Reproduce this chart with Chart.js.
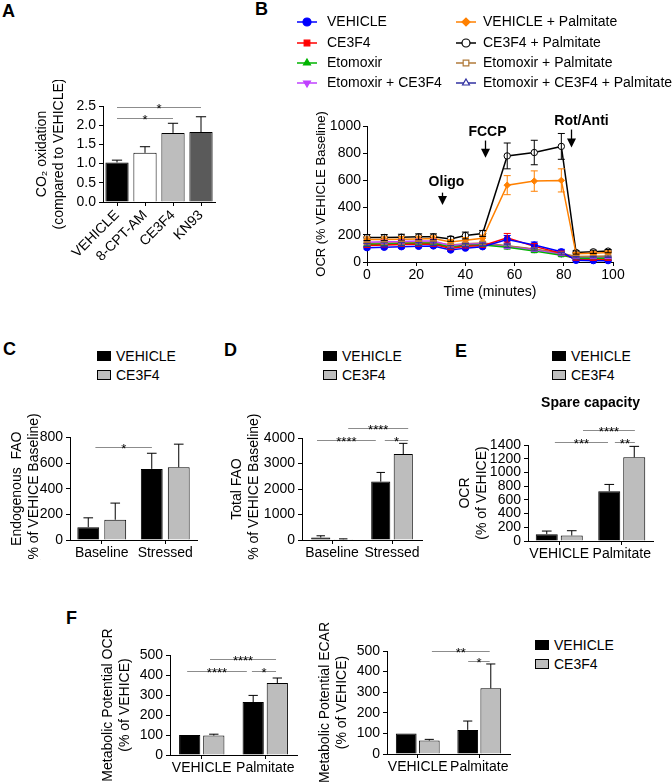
<!DOCTYPE html>
<html>
<head>
<meta charset="utf-8">
<script src="https://cdn.jsdelivr.net/npm/chart.js@4.4.1/dist/chart.umd.min.js"></script>
<style>
body { margin: 0; background: #fff; width: 672px; height: 784px; position: relative; overflow: hidden;
       font-family: 'Liberation Sans', Arial, sans-serif; color: #000; }
.box { position: absolute; }
.letter { position: absolute; font-weight: bold; font-size: 18px; line-height: 18px; }
.leg { position: absolute; font-size: 14px; line-height: 19px; white-space: nowrap; }
.leg i { display: inline-block; width: 12px; height: 8px; border: 1px solid #000; margin-right: 5px; }
</style>
</head>
<body>
<div class="letter" style="left:2px;top:2px">A</div>
<div class="letter" style="left:255px;top:0px">B</div>
<div class="letter" style="left:3px;top:340px">C</div>
<div class="letter" style="left:224px;top:341px">D</div>
<div class="letter" style="left:455px;top:342px">E</div>
<div class="letter" style="left:66px;top:609px">F</div>
<script>
const FONT = "'Liberation Sans', Arial, sans-serif";
Chart.defaults.font.family = FONT;
Chart.defaults.color = '#000';

// ---- panel A
const aLabels = ['VEHICLE', '8-CPT-AM', 'CE3F4', 'KN93'];
const aValues = [1.03, 1.28, 1.80, 1.82];
const aErrors = [0.06, 0.16, 0.25, 0.40];
const aColors = ['#000000', '#ffffff', '#bdbdbd', '#5a5a5a'];

// ---- panel B (Seahorse trace)
const bTimes = [0, 7, 14, 21, 27, 34, 40, 47, 57, 68, 79, 85, 92, 98];
const bNames = ['VEHICLE', 'CE3F4', 'Etomoxir', 'Etomoxir + CE3F4',
                'VEHICLE + Palmitate', 'CE3F4 + Palmitate', 'Etomoxir + Palmitate', 'Etomoxir + CE3F4 + Palmitate'];
const bVehicle   = [105, 108, 112, 115, 118,  88, 102, 112, 165, 125,  75, 12, 10, 10];
const bCe3f4     = [122, 125, 128, 130, 130, 100, 115, 120, 178, 115,  65, 18, 16, 16];
const bEtomoxir  = [130, 133, 135, 138, 138, 108, 122, 125, 108,  80,  50, 28, 28, 28];
const bEtoCe3f4  = [145, 148, 150, 155, 155, 120, 132, 132, 112,  88,  55, 30, 30, 30];
const bVehPalm   = [165, 165, 168, 170, 172, 148, 160, 175, 565, 595, 600, 60, 65, 70];
const bCe3f4Palm = [180, 180, 182, 185, 185, 170, 195, 210, 780, 805, 850, 70, 75, 80];
const bEtoPalm   = [138, 140, 142, 145, 145, 125, 135, 140, 120,  95,  65, 40, 42, 45];
const bEtoCePalm = [125, 128, 130, 132, 134, 110, 125, 130, 118,  92,  60, 35, 36, 38];
const bVehicleErr   = [10, 10, 10, 10, 10,  8,  8,  8, 30, 22, 18,  4,  3,  3];
const bCe3f4Err     = [15, 14, 14, 14, 14, 10, 12, 12, 32, 20, 15,  5,  4,  4];
const bEtomoxirErr  = [10, 10, 10, 10, 10,  8,  8,  8, 12, 10,  8,  4,  4,  4];
const bEtoCe3f4Err  = [12, 12, 12, 12, 12, 10, 10, 10, 12, 10,  8,  4,  4,  4];
const bVehPalmErr   = [20, 20, 20, 20, 20, 18, 20, 22, 70, 75, 85, 10, 10, 10];
const bCe3f4PalmErr = [22, 22, 22, 22, 22, 18, 25, 22, 95, 90, 95, 12, 12, 12];
const bEtoPalmErr   = [12, 12, 12, 12, 12, 10, 10, 10, 12, 10,  8,  5,  5,  5];
const bEtoCePalmErr = [12, 12, 12, 12, 12, 10, 10, 10, 12, 10,  8,  5,  5,  5];
const bInjections = ['Oligo', 'FCCP', 'Rot/Anti'];
const bInjectTimes = [30.5, 48, 83];

// ---- panels C-F (VEHICLE vs CE3F4)
const cGroups = ['Baseline', 'Stressed'];
const cVehicle = [100, 555], cVehicleErr = [73, 122];
const cCe3f4 = [158, 568],   cCe3f4Err = [130, 180];
const dGroups = ['Baseline', 'Stressed'];
const dVehicle = [95, 2290], dVehicleErr = [70, 360];
const dCe3f4 = [30, 3370],   dCe3f4Err = [15, 420];
const eGroups = ['VEHICLE', 'Palmitate'];
const eVehicle = [100, 725], eVehicleErr = [45, 100];
const eCe3f4 = [80, 1220],   eCe3f4Err = [70, 160];
const fGroups = ['VEHICLE', 'Palmitate'];
const fOcrVehicle = [100, 265], fOcrVehicleErr = [0, 33];
const fOcrCe3f4 = [97, 360],    fOcrCe3f4Err = [7, 25];
const fEcarVehicle = [100, 117], fEcarVehicleErr = [0, 43];
const fEcarCe3f4 = [65, 319],    fEcarCe3f4Err = [6, 118];

const BLACK = '#000000', GRAY = '#bdbdbd';

function place(l, t, w, h) {
    let d = document.createElement('div');
    d.className = 'box';
    d.style.cssText = `left:${l}px;top:${t}px;width:${w}px;height:${h}px`;
    let c = document.createElement('canvas');
    d.appendChild(c);
    document.body.appendChild(d);
    return c;
}

function legend(l, t) {
    let d = document.createElement('div');
    d.className = 'leg';
    d.style.left = l + 'px';
    d.style.top = t + 'px';
    d.innerHTML = `<i style="background:${BLACK}"></i>VEHICLE<br><i style="background:${GRAY}"></i>CE3F4`;
    document.body.appendChild(d);
}

// error bars, significance bars and whatever else a panel needs
function extras(o) {
    return {
        id: 'extras',
        afterDatasetsDraw(chart) {
            const ctx = chart.ctx, ys = chart.scales.y;
            ctx.save();
            ctx.lineWidth = 1;
            (o.errors || []).forEach((errs, di) => {
                const meta = chart.getDatasetMeta(di);
                const data = chart.data.datasets[di].data;
                meta.data.forEach((el, j) => {
                    const e = errs[j];
                    if (!e) return;
                    const v = typeof data[j] === 'object' ? data[j].y : data[j];
                    const top = ys.getPixelForValue(v + e);
                    const bot = o.both ? ys.getPixelForValue(v - e) : el.y;
                    const cap = o.cap || el.width * 0.22;
                    ctx.strokeStyle = o.errColors ? o.errColors[di] : '#000';
                    ctx.beginPath();
                    ctx.moveTo(el.x, bot); ctx.lineTo(el.x, top);
                    ctx.moveTo(el.x - cap, top); ctx.lineTo(el.x + cap, top);
                    if (o.both) { ctx.moveTo(el.x - cap, bot); ctx.lineTo(el.x + cap, bot); }
                    ctx.stroke();
                });
            });
            ctx.restore();
        },
        afterDraw(chart) {
            const ctx = chart.ctx, xs = chart.scales.x, ys = chart.scales.y;
            ctx.save();
            (o.sig || []).forEach(s => {
                const x1 = xs.getPixelForValue(s[0]), x2 = xs.getPixelForValue(s[1]);
                const y = Math.round(ys.getPixelForValue(s[2])) + 0.5;
                ctx.strokeStyle = '#8c8c8c';
                ctx.lineWidth = 1;
                ctx.beginPath(); ctx.moveTo(x1, y); ctx.lineTo(x2, y); ctx.stroke();
                ctx.fillStyle = '#000';
                ctx.font = '13px ' + FONT;
                ctx.textAlign = 'center';
                ctx.textBaseline = 'alphabetic';
                ctx.fillText(s[3], (x1 + x2) / 2, y + 5);
            });
            if (o.draw) o.draw(chart, ctx);
            ctx.restore();
        }
    };
}

function fixX(h) { return s => { s.height = h; s.paddingLeft = 0; s.paddingRight = 0; }; }
function fixY(w) { return s => { s.width = w; s.paddingTop = 0; s.paddingBottom = 0; }; }

function barChart(c) {
    let canvas = place(...c.box);
    let datasets = c.series.map(s => ({
        data: s.values,
        backgroundColor: s.color,
        borderColor: '#000',
        borderWidth: 1,
        categoryPercentage: c.cat,
        barPercentage: c.bar
    }));
    return new Chart(canvas, {
        type: 'bar',
        data: { labels: c.labels, datasets: datasets },
        options: {
            responsive: true,
            maintainAspectRatio: false,
            animation: false,
            layout: { padding: c.pad },
            plugins: {
                legend: { display: false },
                tooltip: { enabled: false },
                title: c.heading ? {
                    display: true, text: c.heading, fullSize: false, color: '#000',
                    font: { size: 14, weight: 'bold' }, padding: c.headingPad
                } : { display: false }
            },
            scales: {
                x: {
                    grid: { offset: false, drawOnChartArea: false, tickLength: 4, color: '#000' },
                    border: { color: '#000' },
                    ticks: { font: { size: 14 }, color: '#000', autoSkip: false, padding: 1,
                             maxRotation: c.rot || 0, minRotation: c.rot || 0 },
                    afterFit: fixX(c.xh)
                },
                y: {
                    min: 0, max: c.yMax,
                    grid: { drawOnChartArea: false, tickLength: 4, color: '#000' },
                    border: { color: '#000' },
                    ticks: { stepSize: c.step, autoSkip: false, font: { size: 14 }, color: '#000', padding: 3,
                             callback: c.fmt || (v => v) },
                    title: { display: true, text: c.title, font: { size: 14 }, color: '#000',
                             padding: { top: 4, bottom: 0 } },
                    afterFit: fixY(c.yw)
                }
            }
        },
        plugins: [extras({ errors: c.series.map(s => s.err), sig: c.sig })]
    });
}

// ---- A
barChart({
    box: [0, 80, 228, 180], pad: { left: 30, top: 26, right: 13, bottom: 0 }, yw: 73, xh: 58,
    labels: aLabels, rot: 45, cat: 1, bar: 0.83, yMax: 2.5, step: 0.5, fmt: v => v.toFixed(1),
    title: ['CO\u2082 oxidation', '(compared to VEHICLE)'],
    series: [{ values: aValues, err: aErrors, color: aColors }],
    sig: [[0, 2, 2.18, '*'], [0, 3, 2.48, '*']]
});

// ---- C
legend(97, 347);
barChart({
    box: [0, 380, 210, 180], pad: { left: 5, top: 57.5, right: 13, bottom: 0 }, yw: 65, xh: 20,
    labels: cGroups, cat: 0.85, bar: 0.81, yMax: 800, step: 200,
    title: ['Endogenous  FAO', '(% of VEHICE Baseline)'],
    series: [{ values: cVehicle, err: cVehicleErr, color: BLACK },
             { values: cCe3f4, err: cCe3f4Err, color: GRAY }],
    sig: [[-0.1, 0.79, 726, '*']]
});

// ---- D
legend(323, 347);
barChart({
    box: [215, 380, 215, 180], pad: { left: 10, top: 58, right: 8, bottom: 0 }, yw: 77, xh: 20,
    labels: dGroups, cat: 0.75, bar: 0.85, yMax: 4000, step: 1000,
    title: ['Total FAO', '(% of VEHICE Baseline)'],
    series: [{ values: dVehicle, err: dVehicleErr, color: BLACK },
             { values: dCe3f4, err: dCe3f4Err, color: GRAY }],
    sig: [[-0.25, 0.73, 3920, '****'], [0.27, 1.27, 4390, '****'], [0.88, 1.27, 3920, '*']]
});

// ---- E
legend(552, 347);
barChart({
    box: [440, 380, 232, 180], pad: { left: 12.6, top: 10, right: 19, bottom: 0 }, yw: 75.4, xh: 19,
    heading: 'Spare capacity', headingPad: { top: 4.6, bottom: 33.6 },
    labels: eGroups, cat: 0.8, bar: 0.88, yMax: 1400, step: 200,
    title: ['OCR', '(% of VEHICE)'],
    series: [{ values: eVehicle, err: eVehicleErr, color: BLACK },
             { values: eCe3f4, err: eCe3f4Err, color: GRAY }],
    sig: [[-0.07, 0.78, 1443, '***'], [0.38, 1.21, 1618, '****'], [0.89, 1.21, 1443, '**']]
});

// ---- F
barChart({
    box: [90, 600, 215, 184], pad: { left: 5.6, top: 55, right: 8, bottom: 0 }, yw: 74.4, xh: 29,
    labels: fGroups, cat: 0.76, bar: 0.88, yMax: 500, step: 100,
    title: ['Metabolic Potential OCR', '(% of VEHICE)'],
    series: [{ values: fOcrVehicle, err: fOcrVehicleErr, color: BLACK },
             { values: fOcrCe3f4, err: fOcrCe3f4Err, color: GRAY }],
    sig: [[-0.23, 0.71, 420, '****'], [0.13, 1.17, 480, '****'], [0.79, 1.17, 420, '*']]
});
barChart({
    box: [310, 600, 210, 184], pad: { left: 2.6, top: 51, right: 10, bottom: 0 }, yw: 74.4, xh: 30,
    labels: fGroups, cat: 0.75, bar: 0.9, yMax: 500, step: 100,
    title: ['Metabolic Potential ECAR', '(% of VEHICE)'],
    series: [{ values: fEcarVehicle, err: fEcarVehicleErr, color: BLACK },
             { values: fEcarCe3f4, err: fEcarCe3f4Err, color: GRAY }],
    sig: [[0.23, 1.17, 500, '**'], [0.82, 1.17, 451, '*']]
});
legend(535, 636);

// ---- B
const bSeries = [bVehicle, bCe3f4, bEtomoxir, bEtoCe3f4, bVehPalm, bCe3f4Palm, bEtoPalm, bEtoCePalm];
const bErrors = [bVehicleErr, bCe3f4Err, bEtomoxirErr, bEtoCe3f4Err, bVehPalmErr, bCe3f4PalmErr, bEtoPalmErr, bEtoCePalmErr];
const bColors = ['#0000ff', '#ff0000', '#00b400', '#c040ff', '#ff8000', '#000000', '#b07a3a', '#3030a0'];
const bStyles = ['circle', 'rect', 'triangle', 'triangle', 'rectRot', 'circle', 'rect', 'triangle'];
const bRotate = [0, 0, 0, 180, 0, 0, 0, 0];
const bFilled = [true, true, true, true, true, false, false, false];

function drawB(chart, ctx) {
    const xs = chart.scales.x, ys = chart.scales.y;
    const H = Chart.helpers;
    bNames.forEach((name, i) => {
        const col = i < 4 ? 0 : 1;
        const mx = [77, 236][col], tx = [97, 253][col], y = [22, 43, 63, 83][i % 4];
        ctx.strokeStyle = bColors[i];
        ctx.lineWidth = 1.5;
        ctx.beginPath(); ctx.moveTo(mx - 10, y); ctx.lineTo(mx + 10, y); ctx.stroke();
        ctx.fillStyle = bFilled[i] ? bColors[i] : '#fff';
        ctx.lineWidth = 1.2;
        if (H && H.drawPoint) {
            H.drawPoint(ctx, { pointStyle: bStyles[i], radius: 4, rotation: bRotate[i], borderWidth: 1.2 }, mx, y);
        } else {
            ctx.beginPath(); ctx.arc(mx, y, 4, 0, Math.PI * 2); ctx.fill(); ctx.stroke();
        }
        ctx.fillStyle = '#000';
        ctx.font = '14px ' + FONT;
        ctx.textAlign = 'left';
        ctx.textBaseline = 'middle';
        ctx.fillText(name, tx, y);
    });
    // injection arrows: [tip, top of shaft, label] in OCR units, label x shift
    const arrowLayout = [[420, 510, 590, 4], [767, 893, 952, 2], [841, 974, 1033, 10]];
    bInjections.forEach((txt, i) => {
        const x = Math.round(xs.getPixelForValue(bInjectTimes[i])) + 0.5;
        const [tipV, topV, textV, dx] = arrowLayout[i];
        const tip = ys.getPixelForValue(tipV), top = ys.getPixelForValue(topV);
        ctx.strokeStyle = '#000';
        ctx.fillStyle = '#000';
        ctx.lineWidth = 1.3;
        ctx.beginPath(); ctx.moveTo(x, top); ctx.lineTo(x, tip - 6); ctx.stroke();
        ctx.beginPath(); ctx.moveTo(x - 4.5, tip - 9); ctx.lineTo(x + 4.5, tip - 9); ctx.lineTo(x, tip); ctx.closePath(); ctx.fill();
        ctx.font = 'bold 14px ' + FONT;
        ctx.textAlign = 'center';
        ctx.textBaseline = 'middle';
        ctx.fillText(txt, x + dx, ys.getPixelForValue(textV));
    });
}

new Chart(place(230, 0, 442, 305), {
    type: 'line',
    data: {
        datasets: bSeries.map((vals, i) => ({
            label: bNames[i],
            data: vals.map((v, j) => ({ x: bTimes[j], y: v })),
            borderColor: bColors[i],
            borderWidth: 1.5,
            pointStyle: bStyles[i],
            pointRotation: bRotate[i],
            pointRadius: 3.2,
            pointBorderWidth: 1,
            pointBorderColor: bColors[i],
            pointBackgroundColor: bFilled[i] ? bColors[i] : '#fff',
            clip: false
        }))
    },
    options: {
        responsive: true,
        maintainAspectRatio: false,
        animation: false,
        layout: { padding: { left: 81, top: 126, right: 59, bottom: 0 } },
        plugins: { legend: { display: false }, tooltip: { enabled: false } },
        scales: {
            x: {
                type: 'linear', min: 0, max: 100,
                grid: { drawOnChartArea: false, tickLength: 4, color: '#000' },
                border: { color: '#000' },
                ticks: { stepSize: 20, font: { size: 14 }, color: '#000', padding: 1 },
                title: { display: true, text: 'Time (minutes)', font: { size: 14 }, color: '#000',
                         padding: { top: 0, bottom: 4 } },
                afterFit: fixX(43)
            },
            y: {
                min: 0, max: 1000,
                grid: { drawOnChartArea: false, tickLength: 4, color: '#000' },
                border: { color: '#000' },
                ticks: { stepSize: 200, autoSkip: false, font: { size: 14 }, color: '#000', padding: 2,
                         callback: v => String(v) },
                title: { display: true, text: 'OCR (% VEHICLE Baseline)', font: { size: 13 }, color: '#000',
                         padding: { top: 3, bottom: 0 } },
                afterFit: fixY(56)
            }
        }
    },
    plugins: [extras({ errors: bErrors, both: true, cap: 3.5, errColors: bColors, draw: drawB })]
});
</script>
</body>
</html>
